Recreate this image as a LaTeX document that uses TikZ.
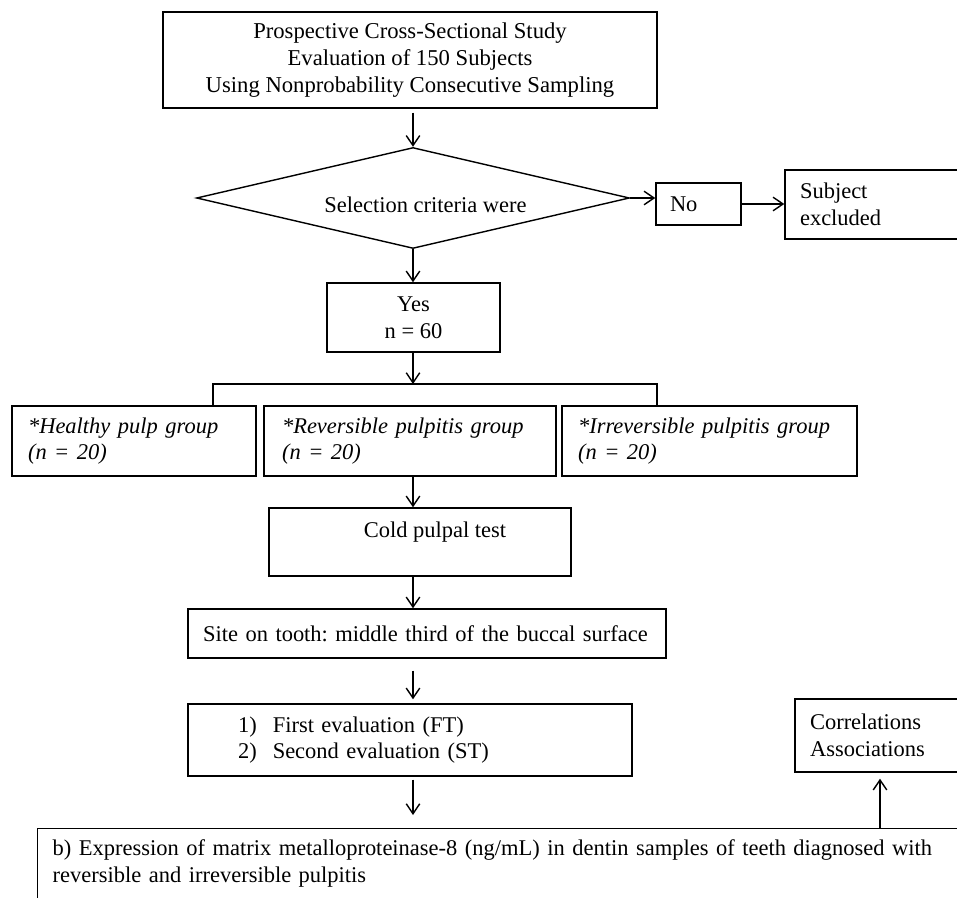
\documentclass[tikz,border=0pt]{standalone}
\usepackage{fontspec}
\setmainfont{Liberation Serif}
\usetikzlibrary{shapes.geometric,arrows.meta}
\frenchspacing

\begin{document}
\begin{tikzpicture}[x=0.02cm, y=-0.02cm,
	every node/.style={font=\fontsize{12.8}{15.2}\selectfont},
	box/.style={draw, line width=0.8pt, inner ysep=0pt},
	lbox/.style={box, align=left},
	arr/.style={line width=0.8pt, -{Straight Barb[length=0.2cm, width=0.27cm]}},
	branch/.style={line width=1.3pt}]
			\useasboundingbox (0,0) rectangle (957,898);
			%Spine
			\coordinate (spine) at (413,0);
			%Boxes
			\node[box, align=center, font=\fontsize{12.9}{15.2}\selectfont, minimum width=9.88cm, minimum height=1.92cm] (study) at (410,60)
				{Prospective Cross-Sectional Study\\Evaluation of 150 Subjects\\Using Nonprobability Consecutive Sampling};
			\node[draw, line width=0.8pt, diamond, aspect=4.29, inner sep=0pt, text height=0.6cm, minimum width=8.66cm, minimum height=2.02cm] (sel) at (413,198)
				{\hspace{0.5cm}Selection criteria were};
			\node[lbox, text width=1.14cm, inner xsep=0.28cm, minimum height=0.84cm] (no) at (698.5,204) {No};
			\node[lbox, text width=3.10cm, inner xsep=0.3cm, minimum height=1.38cm] (excl) at (877.5,204.5) {Subject\\excluded};
			\node[box, align=center, minimum width=3.46cm, minimum height=1.38cm] (yes) at (413.5,317.5) {Yes\\n = 60};
			%Groups
			\node[lbox, text width=4.24cm, inner xsep=0.32cm, minimum height=1.40cm] (healthy) at (134,441)
				{\itshape *Healthy pulp group\\(n = 20)};
			\node[lbox, text width=5.12cm, inner xsep=0.36cm, minimum height=1.40cm] (rev) at (410,441)
				{\itshape *Reversible pulpitis group\\(n = 20)};
			\node[lbox, text width=5.26cm, inner xsep=0.32cm, minimum height=1.40cm] (irr) at (709.5,441)
				{\itshape *Irreversible pulpitis group\\(n = 20)};
			\node[box, text depth=0.5cm, minimum width=6.04cm, minimum height=1.36cm] (cold) at (420,542) {\hspace{0.6cm}Cold pulpal test};
			\node[lbox, text width=8.96cm, inner xsep=0.3cm, minimum height=0.98cm] (site) at (427,633.5)
				{Site on tooth: middle third of the buccal surface};
			\node[lbox, text width=6.88cm, inner xsep=1.0cm, minimum height=1.44cm] (eval) at (410,740)
				{1)\hspace{0.32cm}First evaluation (FT)\\2)\hspace{0.32cm}Second evaluation (ST)};
			\node[lbox, text width=2.80cm, inner xsep=0.3cm, minimum height=1.46cm] (corr) at (880,735.5)
				{Correlations\\Associations};
			\node[lbox, anchor=north west, text width=18.2cm, inner xsep=0.3cm, inner ysep=0.22cm, text depth=1.2cm] (mmp) at (37,828)
				{b) Expression of matrix metalloproteinase-8 (ng/mL) in dentin samples of teeth diagnosed with\\reversible and irreversible pulpitis};
			%Branch
			\coordinate (split) at (413,384);
			\coordinate (brL) at (213,384);
			\coordinate (brR) at (657,384);
			%Arrows
			\draw[arr, shorten <=0.08cm] (spine |- study.south) -- (spine |- sel.north);
			\draw[arr] (sel.east) -- (sel.east -| no.west);
			\draw[arr] (no.east) -- (no.east -| excl.west);
			\draw[arr] (sel.south) -- (spine |- yes.north);
			\draw[arr] (spine |- yes.south) -- (split);
			\draw[branch] (healthy.north -| brL) -- (brL) -- (brR) -- (irr.north -| brR);
			\draw[arr] (spine |- rev.south) -- (spine |- cold.north);
			\draw[arr] (spine |- cold.south) -- (spine |- site.north);
			\draw[arr, shorten <=0.24cm, shorten >=0.08cm] (spine |- site.south) -- (spine |- eval.north);
			\draw[arr, shorten <=0.06cm, shorten >=0.26cm] (spine |- eval.south) -- (spine |- mmp.north);
			\draw[arr, shorten >=0.12cm] (corr.south |- mmp.north) -- (corr.south);
\end{tikzpicture}
\end{document}
